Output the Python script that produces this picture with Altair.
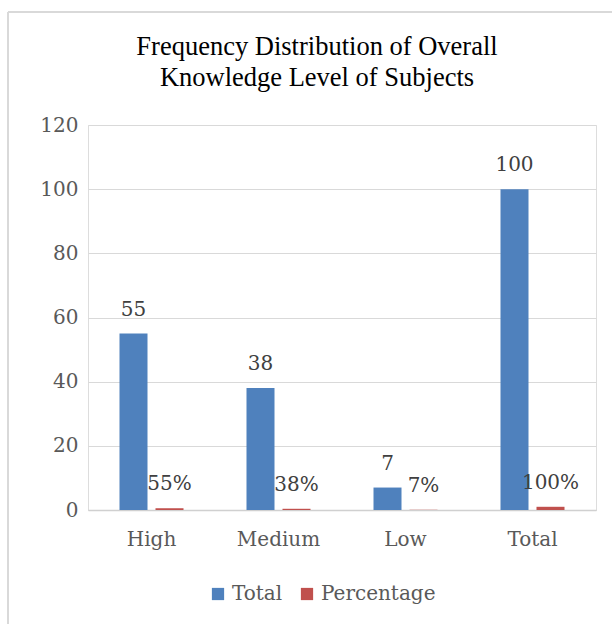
import altair as alt
import pandas as pd

categories = ["High", "Medium", "Low", "Total"]
totals = [55, 38, 7, 100]
percentages = [0.55, 0.38, 0.07, 1.00]
series_names = ["Total", "Percentage"]
colors = ["#4f81bd", "#c0504d"]

rows = []
for c, t, p in zip(categories, totals, percentages):
    rows.append({"category": c, "series": "Total", "value": t, "label": f"{t}"})
    rows.append({"category": c, "series": "Percentage", "value": p, "label": f"{round(p*100)}%"})
df = pd.DataFrame(rows)

FONT = "DejaVu Serif"
x = alt.X("category:N", sort=categories, title=None,
          scale=alt.Scale(paddingInner=0.496, paddingOuter=0.248),
          axis=alt.Axis(labelAngle=0, labelFont=FONT, labelFontSize=20, labelColor="#595959",
                        labelPadding=19, ticks=False, domainColor="#d0d0d0", domainWidth=1.5))
xo = alt.XOffset("series:N", sort=series_names, scale=alt.Scale(paddingInner=0.222, paddingOuter=0))
y = alt.Y("value:Q", title=None, scale=alt.Scale(domain=[0, 120], nice=False),
          axis=alt.Axis(values=[0, 20, 40, 60, 80, 100, 120], labelFont=FONT, labelFontSize=20,
                        labelColor="#595959", labelPadding=10, ticks=False, domain=False,
                        gridColor="#d9d9d9", gridWidth=1))
color = alt.Color("series:N", sort=series_names,
                  scale=alt.Scale(domain=series_names, range=colors),
                  legend=alt.Legend(title=None, orient="none", direction="horizontal",
                                    legendX=120, legendY=459, symbolType="square", symbolSize=150,
                                    symbolStrokeWidth=0, labelFont=FONT, labelFontSize=20,
                                    labelColor="#595959", columnPadding=14, labelOffset=4))

base = alt.Chart(df)
bars = base.mark_bar().encode(x=x, xOffset=xo, y=y, color=color)
labels = base.mark_text(font=FONT, fontSize=20, color="#404040", baseline="alphabetic", dy=-18).encode(
    x=x, xOffset=xo, y=y, text="label:N")

frame_left = alt.Chart(df).mark_rule(color="#d9d9d9", strokeWidth=1.5).encode(
    x=alt.value(-80), y=alt.value(-113), y2=alt.value(499))
frame_top = alt.Chart(df).mark_rule(color="#d9d9d9", strokeWidth=1.5).encode(
    x=alt.value(-80), x2=alt.value(530), y=alt.value(-113))

chart = alt.layer(bars, labels, frame_left, frame_top).properties(
    width=508, height=385,
    title=alt.TitleParams(["Frequency Distribution of Overall", "Knowledge Level of Subjects"],
                          font="Liberation Serif", fontSize=26.5, fontWeight="normal", color="#000000",
                          anchor="middle", dx=-25, offset=-80, lineHeight=31),
    autosize=alt.AutoSizeParams(type="none"),
    padding={"left": 88, "top": 125, "right": 16, "bottom": 114},
).configure_view(stroke=None).configure(background="white")

chart.save("out.html", embed_options={"renderer": "svg", "actions": False})
